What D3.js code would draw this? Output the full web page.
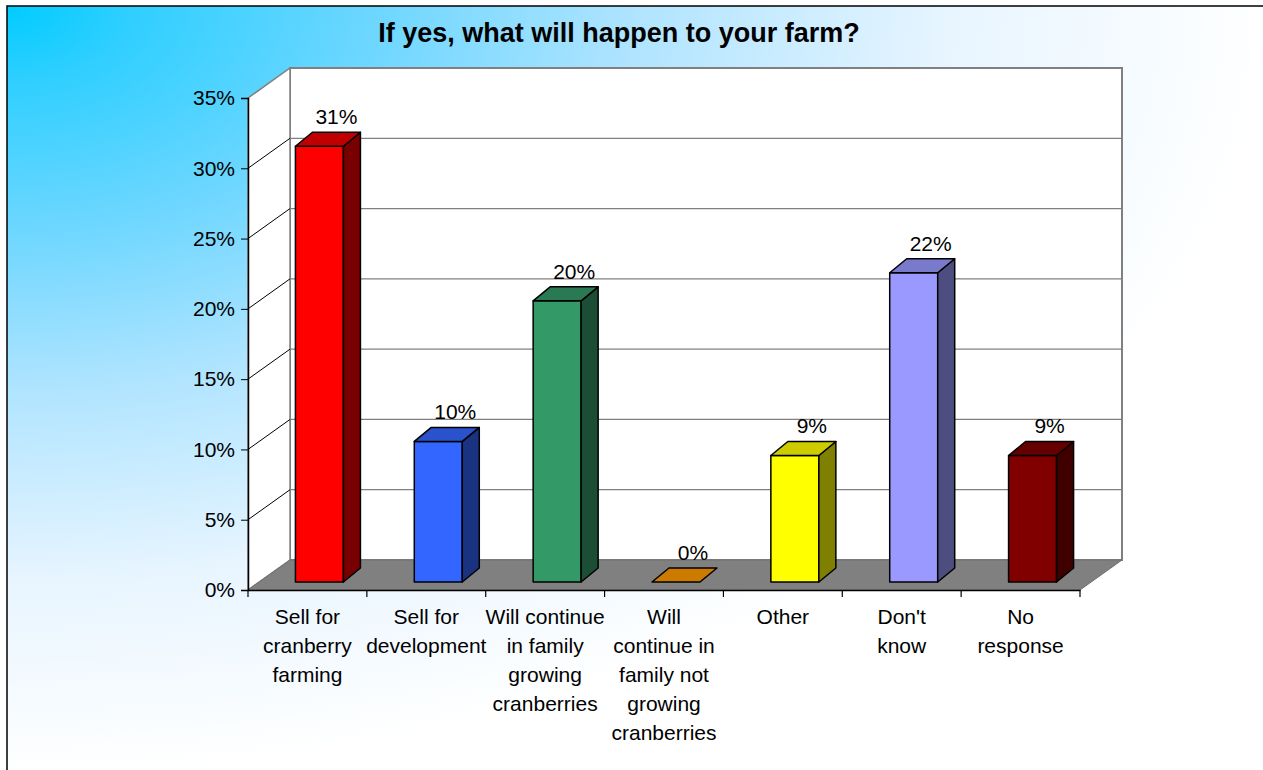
<!DOCTYPE html>
<html>
<head>
<meta charset="utf-8">
<script src="https://cdn.jsdelivr.net/npm/d3@7"></script>
<style>
  html, body { margin: 0; padding: 0; background: #fff; }
  svg { display: block; font-family: Arial, "Liberation Sans", sans-serif; }
</style>
</head>
<body>
<svg id="chart" width="1263" height="770"></svg>
<script>
// Survey responses: "If yes, what will happen to your farm?"
const categories = [
  "Sell for cranberry farming",
  "Sell for development",
  "Will continue in family growing cranberries",
  "Will continue in family not growing cranberries",
  "Other",
  "Don't know",
  "No response"
];
const categoryLines = [
  ["Sell for", "cranberry", "farming"],
  ["Sell for", "development"],
  ["Will continue", "in family", "growing", "cranberries"],
  ["Will", "continue in", "family not", "growing", "cranberries"],
  ["Other"],
  ["Don't", "know"],
  ["No", "response"]
];
const percentages = [31, 10, 20, 0, 9, 22, 9];
const yTicks = [0, 5, 10, 15, 20, 25, 30, 35];
const title = "If yes, what will happen to your farm?";

// Bar colours: front, top, side
const barFront = ["#FF0000", "#3366FF", "#339966", "#CC7A00", "#FFFF00", "#9999FF", "#800000"];
const barTop   = ["#C00000", "#2A52CC", "#297A52", "#C07000", "#CCCC00", "#7A7ACC", "#640000"];
const barSide  = ["#780000", "#1A3380", "#1C4D35", "#805000", "#808000", "#4D4D80", "#400000"];

const svg = d3.select("#chart");
const W = 1263, H = 770;

// Background gradient from the top-left corner
const defs = svg.append("defs");
const grad = defs.append("radialGradient")
  .attr("id", "bg").attr("cx", 0).attr("cy", 0).attr("fx", 0).attr("fy", 0).attr("r", 1);
[[0, "#00CCFF"], [0.1, "#30CFFF"], [0.3, "#70D7FF"], [0.5, "#B0E4FF"], [0.75, "#E8F5FF"], [1, "#FFFFFF"]]
  .forEach(([o, c]) => grad.append("stop").attr("offset", o).attr("stop-color", c));

svg.append("rect").attr("x", 7).attr("y", 6).attr("width", W).attr("height", H)
  .attr("fill", "url(#bg)");
svg.append("path").attr("d", `M7,${H}V6H${W}`).attr("fill", "none")
  .attr("stroke", "#000").attr("stroke-width", 1.5);

// Title
svg.append("text").attr("x", 619).attr("y", 42).attr("text-anchor", "middle")
  .attr("font-size", 27).attr("font-weight", "bold").attr("fill", "#000").text(title);

// Plot geometry (front plane + depth offset)
const x0 = 248, x1 = 1080, yBase = 590, yTop = 98;
const depthX = 42, depthY = 30;

const x = d3.scaleBand().domain(categories).range([x0, x1]).paddingInner(0).paddingOuter(0);
const y = d3.scaleLinear().domain([0, 35]).range([yBase, yTop]);

// Back wall
svg.append("rect")
  .attr("x", x0 + depthX).attr("y", yTop - depthY)
  .attr("width", x1 - x0).attr("height", yBase - yTop)
  .attr("fill", "#fff").attr("stroke", "#808080").attr("stroke-width", 2);
// Side wall
svg.append("polygon")
  .attr("points", [[x0, yTop], [x0 + depthX, yTop - depthY], [x0 + depthX, yBase - depthY], [x0, yBase]].join(" "))
  .attr("fill", "#fff").attr("stroke", "#808080").attr("stroke-width", 1.5);

// Gridlines on back wall and side wall
const inner = yTicks.filter(t => t > 0 && t < 35);
svg.append("g").selectAll("line").data(inner).join("line")
  .attr("x1", x0 + depthX).attr("x2", x1 + depthX)
  .attr("y1", d => y(d) - depthY).attr("y2", d => y(d) - depthY)
  .attr("stroke", "#808080").attr("stroke-width", 1.3);
svg.append("g").selectAll("line").data(inner).join("line")
  .attr("x1", x0).attr("x2", x0 + depthX)
  .attr("y1", d => y(d)).attr("y2", d => y(d) - depthY)
  .attr("stroke", "#000").attr("stroke-width", 1);

// Floor
svg.append("polygon")
  .attr("points", [[x0, yBase], [x0 + depthX, yBase - depthY], [x1 + depthX, yBase - depthY], [x1, yBase]].join(" "))
  .attr("fill", "#808080").attr("stroke", "#707070").attr("stroke-width", 1);

// Y axis
const yAxis = svg.append("g").attr("transform", `translate(${x0},0)`)
  .call(d3.axisLeft(y).tickValues(yTicks).tickFormat(d => d + "%").tickSize(7).tickPadding(6));
yAxis.select(".domain").attr("stroke", "#000").attr("stroke-width", 1.5);
yAxis.selectAll(".tick line").attr("stroke", "#000");
yAxis.selectAll(".tick text").attr("font-size", 21).attr("fill", "#000")
  .attr("font-family", "Arial, 'Liberation Sans', sans-serif");

// X axis line and category ticks
const xAxis = svg.append("g").attr("transform", `translate(0,${yBase})`)
  .call(d3.axisBottom(x).tickSize(0).tickFormat(""));
xAxis.select(".domain").attr("stroke", "#000").attr("stroke-width", 1.5);
const bounds = d3.range(categories.length + 1).map(i => x0 + i * x.bandwidth());
svg.append("g").selectAll("line").data(bounds).join("line")
  .attr("x1", d => d).attr("x2", d => d).attr("y1", yBase).attr("y2", yBase + 7)
  .attr("stroke", "#000").attr("stroke-width", 1.2);

// Category labels
const catG = svg.append("g").attr("font-size", 21).attr("fill", "#000").attr("text-anchor", "middle");
categories.forEach((c, i) => {
  const t = catG.append("text").attr("x", x(c) + x.bandwidth() / 2).attr("y", 624);
  categoryLines[i].forEach((ln, j) => {
    t.append("tspan").attr("x", x(c) + x.bandwidth() / 2).attr("dy", j === 0 ? 0 : 29).text(ln);
  });
});

// 3D bars
const barW = 48, frontDX = 12, frontDY = 8, bdx = 17, bdy = 14;
const bars = svg.append("g").attr("stroke", "#000").attr("stroke-width", 1.5).attr("stroke-linejoin", "round");
categories.forEach((c, i) => {
  const v = percentages[i];
  const cx = x(c) + x.bandwidth() / 2 + frontDX;
  const l = cx - barW / 2, r = cx + barW / 2;
  const b = y(0) - frontDY, t = y(v) - frontDY;
  if (v > 0) {
    bars.append("rect").attr("x", l).attr("y", t).attr("width", barW).attr("height", b - t)
      .attr("fill", barFront[i]);
    bars.append("polygon")
      .attr("points", [[r, t], [r + bdx, t - bdy], [r + bdx, b - bdy], [r, b]].join(" "))
      .attr("fill", barSide[i]);
  }
  bars.append("polygon")
    .attr("points", [[l, t], [l + bdx, t - bdy], [r + bdx, t - bdy], [r, t]].join(" "))
    .attr("fill", v > 0 ? barTop[i] : barFront[i]);
  svg.append("text").attr("x", cx + bdx).attr("y", t - bdy - 8)
    .attr("text-anchor", "middle").attr("font-size", 21).attr("fill", "#000")
    .text(v + "%");
});
</script>
</body>
</html>
